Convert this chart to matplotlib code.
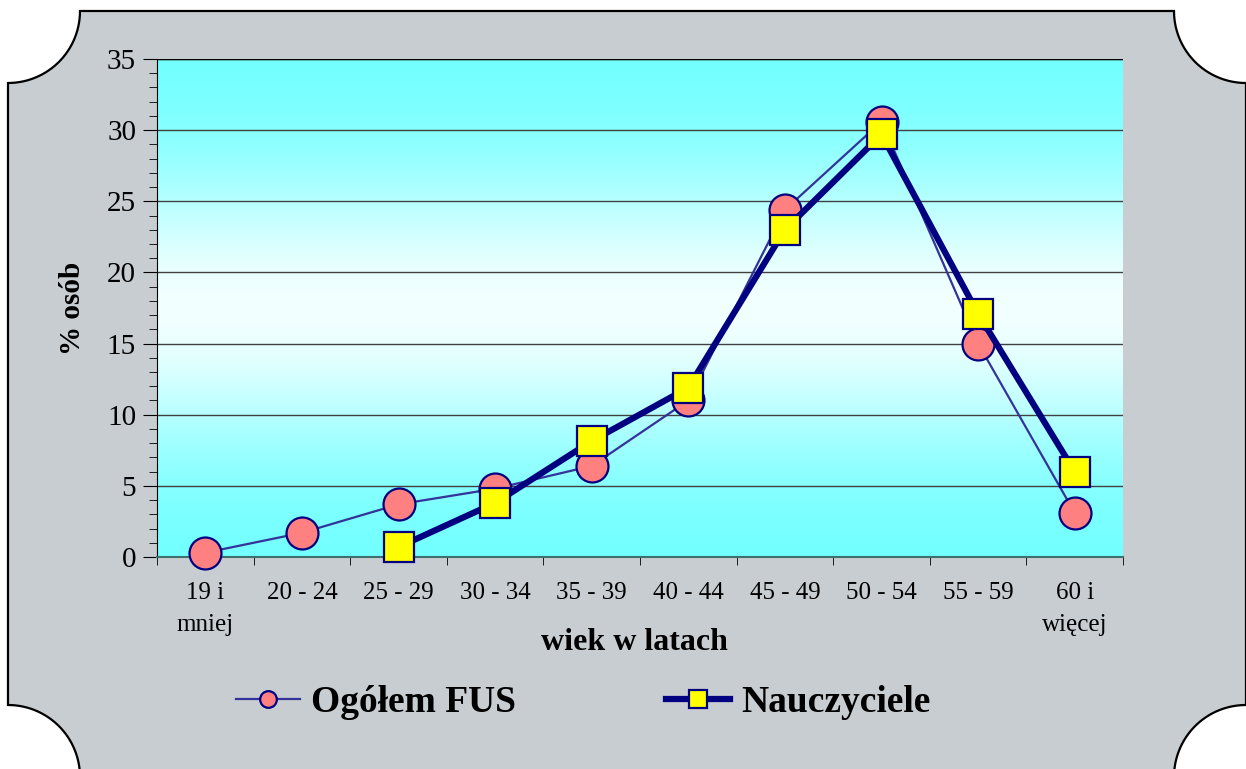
import numpy as np
import matplotlib.pyplot as plt
from matplotlib.lines import Line2D
from matplotlib.path import Path
from matplotlib.patches import PathPatch

categories = ["19 i\nmniej", "20 - 24", "25 - 29", "30 - 34", "35 - 39",
              "40 - 44", "45 - 49", "50 - 54", "55 - 59", "60 i\nwięcej"]
ogolem_fus = [0.3, 1.7, 3.7, 4.8, 6.4, 11.0, 24.4, 30.6, 15.0, 3.1]
nauczyciele = [None, None, 0.7, 3.8, 8.15, 11.9, 23.0, 29.7, 17.1, 6.0]

plt.rcParams['font.family'] = ['Liberation Serif', 'DejaVu Serif']

W, H = 1246, 769
fig = plt.figure(figsize=(W / 100, H / 100), dpi=100)
fig.patch.set_facecolor("white")

# Frame with quarter-circle notches at the corners (pixel coords, y up)
x0, x1, y0, y1, r = 8, 1246, -8, 758, 72
def arc(cx, cy, a0, a1):
    t = np.linspace(np.radians(a0), np.radians(a1), 30)
    return [(cx + r * np.cos(a), cy + r * np.sin(a)) for a in t]
pts = []
pts += arc(x0, y1, 0, -90)          # top-left
pts += arc(x0, y0, 90, 0)           # bottom-left
pts += arc(x1, y0, 180, 90)         # bottom-right
pts += arc(x1, y1, 270, 180)        # top-right
pts.append(pts[0])
pts = [(px / W, py / H) for px, py in pts]
codes = [Path.MOVETO] + [Path.LINETO] * (len(pts) - 2) + [Path.CLOSEPOLY]
frame = PathPatch(Path(pts, codes), transform=fig.transFigure,
                  facecolor="#c8cdd1", edgecolor="black", lw=1.6, zorder=-5)
fig.patches.append(frame)

ax = fig.add_axes([157 / W, 1 - 557 / H, (1123 - 157) / W, (557 - 59) / H])
ax.set_zorder(2)
ax.set_facecolor("none")

# Vertical cyan-white-cyan gradient in the plot area
t = np.linspace(0, 1, 256)
w = np.exp(-((t - 0.5) / 0.28) ** 2)
c0 = np.array([0.43, 1.0, 1.0])
c1 = np.array([0.95, 1.0, 1.0])
grad = (c0[None, :] * (1 - w[:, None]) + c1[None, :] * w[:, None])[:, None, :]
ax.imshow(grad, extent=[0, 1, 0, 1], transform=ax.transAxes, aspect="auto",
          origin="lower", zorder=0)

x = np.arange(len(categories))
ax.plot(x, ogolem_fus, color="#333399", lw=1.6, marker="o", markersize=23,
        markerfacecolor="#ff8080", markeredgecolor="#000080", markeredgewidth=1.6,
        zorder=3, clip_on=False)
nx = [i for i, v in zip(x, nauczyciele) if v is not None]
ny = [v for v in nauczyciele if v is not None]
ax.plot(nx, ny, color="#000080", lw=4.5, marker="s", markersize=22,
        markerfacecolor="#ffff00", markeredgecolor="#000080", markeredgewidth=1.6,
        zorder=4, clip_on=False)

ax.set_xlim(-0.5, len(categories) - 0.5)
ax.set_ylim(0, 35)
ax.set_yticks(range(0, 36, 5))
ax.set_yticks(range(0, 36, 1), minor=True)
ax.yaxis.grid(True, which="major", color="#404040", lw=1.0)
ax.set_axisbelow(True)
ax.set_xticks(x)
ax.set_xticklabels(categories, fontsize=18, linespacing=1.6, va="top")
ax.set_xticks(np.arange(-0.5, len(categories)), minor=True)
ax.tick_params(axis="x", which="major", length=0, pad=18)
ax.tick_params(axis="x", which="minor", length=6, direction="out")
ax.tick_params(axis="y", which="major", length=10, labelsize=21, pad=5)
ax.tick_params(axis="y", which="minor", length=6)

for s in ["top", "right"]:
    ax.spines[s].set_visible(False)
ax.spines["left"].set_color("black")
ax.spines["bottom"].set_color("#3f7070")
ax.spines["bottom"].set_linewidth(1.5)
ax.axhline(35, color="black", lw=1.0, zorder=1)

ax.set_ylabel("% osób", fontsize=21, fontweight="bold", labelpad=15)
ax.set_xlabel("wiek w latach", fontsize=23, fontweight="bold")
ax.xaxis.set_label_coords(0.494, -0.142)

handles = [
    Line2D([], [], color="#333399", lw=1.6, marker="o", markersize=12,
           markerfacecolor="#ff8080", markeredgecolor="#000080", markeredgewidth=1.6),
    Line2D([], [], color="#000080", lw=4.5, marker="s", markersize=13,
           markerfacecolor="#ffff00", markeredgecolor="#000080", markeredgewidth=1.6),
]
fig.legend(handles, ["Ogółem FUS", "Nauczyciele"], loc="center",
           bbox_to_anchor=(583 / W, 1 - 703 / H), ncol=2, frameon=False,
           prop={"size": 27, "weight": "bold"}, handlelength=1.7,
           handletextpad=0.3, columnspacing=4.0)

fig.savefig("out.png", dpi=100)
